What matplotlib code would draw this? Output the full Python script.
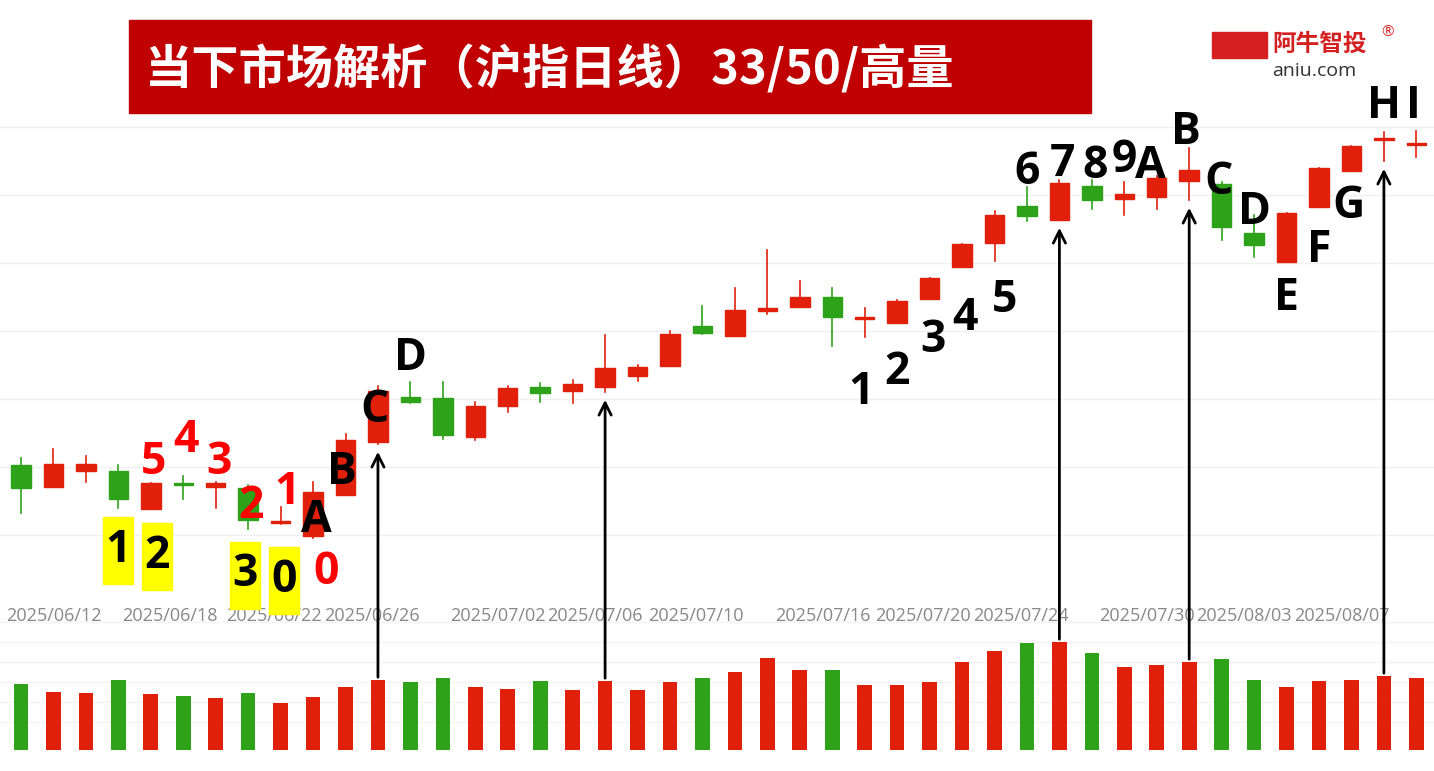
import matplotlib.pyplot as plt
from matplotlib.patches import Rectangle

plt.rcParams["font.family"] = ["Open Sans", "Noto Sans CJK SC"]

# price values (arbitrary index units)
opens  = [535, 513, 529, 529, 491, 516, 513, 512, 477, 464, 505, 558, 603, 602, 563, 594, 613, 609, 613, 624,
          634, 674, 664, 689, 693, 703, 681, 677, 701, 733, 757, 794, 780, 814, 801, 803, 819, 816, 767, 738,
          793, 829, 860, 855]
highs  = [542, 551, 544, 535, 517, 524, 518, 515, 493, 518, 566, 614, 618, 618, 598, 614, 617, 620, 665, 635,
          669, 694, 712, 750, 719, 712, 692, 700, 722, 756, 789, 813, 820, 820, 818, 824, 852, 818, 785, 787,
          832, 854, 868, 869]
lows   = [487, 513, 518, 492, 491, 501, 492, 471, 476, 462, 505, 556, 597, 561, 560, 588, 598, 597, 608, 619,
          634, 666, 664, 686, 693, 654, 663, 677, 701, 733, 739, 779, 780, 791, 785, 791, 800, 760, 743, 738,
          793, 829, 839, 843]
closes = [512, 536, 536, 501, 517, 515, 517, 480, 477, 508, 560, 609, 598, 565, 594, 612, 607, 616, 632, 633,
          666, 667, 690, 692, 703, 683, 681, 699, 722, 756, 785, 784, 817, 800, 806, 822, 830, 773, 755, 787,
          832, 854, 860, 855]
volumes = [66, 58, 57, 70, 56, 54, 52, 57, 47, 53, 63, 70, 68, 72, 63, 61, 69, 60, 69, 60,
           68, 72, 78, 92, 80, 80, 65, 65, 68, 88, 99, 107, 108, 97, 83, 85, 88, 91, 70, 63,
           69, 70, 74, 72]
tick_pos = [1.0, 4.6, 7.8, 10.8, 14.7, 17.7, 20.8, 24.7, 27.8, 30.8, 34.7, 37.7, 40.7]
tick_labels = ["2025/06/12", "2025/06/18", "2025/06/22", "2025/06/26", "2025/07/02", "2025/07/06",
               "2025/07/10", "2025/07/16", "2025/07/20", "2025/07/24", "2025/07/30", "2025/08/03",
               "2025/08/07"]
# wave labels: (candle index, price level, text, colour, yellow box)
marks = [
    (4.1, 538, "5", "red", False), (5.1, 560, "4", "red", False), (6.1, 538, "3", "red", False),
    (7.1, 493, "2", "red", False), (8.2, 508, "1", "red", False), (9.4, 427, "0", "red", False),
    (3.0, 450, "1", "black", True), (4.2, 444, "2", "black", True), (6.9, 425, "3", "black", True),
    (8.1, 420, "0", "black", True),
    (9.1, 480, "A", "black", False), (9.9, 528, "B", "black", False), (10.9, 590, "C", "black", False),
    (12.0, 642, "D", "black", False),
    (25.9, 608, "1", "black", False), (27.0, 628, "2", "black", False), (28.1, 660, "3", "black", False),
    (29.1, 682, "4", "black", False), (30.3, 700, "5", "black", False), (31.0, 827, "6", "black", False),
    (32.1, 835, "7", "black", False), (33.1, 834, "8", "black", False), (34.0, 840, "9", "black", False),
    (34.8, 833, "A", "black", False), (35.9, 868, "B", "black", False), (36.9, 818, "C", "black", False),
    (38.0, 787, "D", "black", False), (39.0, 702, "E", "black", False), (40.0, 750, "F", "black", False),
    (40.9, 793, "G", "black", False), (42.0, 893, "H", "black", False), (42.9, 893, "I", "black", False),
]
arrow_idx = [11, 18, 32, 36, 42]

RED = "#e0200a"
GREEN = "#2ea31a"
W, H = 1434, 771
SP = 32.45
X0 = -21 / SP
X1 = (W - 21) / SP

fig = plt.figure(figsize=(W / 100, H / 100), dpi=100)
ax = fig.add_axes([0, (H - 600) / H, 1, 500 / H])
axv = fig.add_axes([0, (H - 750) / H, 1, 130 / H])
ax.set_zorder(2)
ax.patch.set_alpha(0)
for a in (ax, axv):
    a.set_xlim(X0, X1)
    for s in a.spines.values():
        s.set_visible(False)
    a.tick_params(length=0)
    a.set_yticks([])
ax.set_ylim(400, 900)
axv.set_ylim(0, 130)
axv.set_xticks([])

for gy in [873, 805, 737, 669, 601, 533, 465, 397]:
    ax.axhline(gy, color="#f0f0f0", lw=1, zorder=0)
for gy in [128, 108, 88, 68, 48, 28]:
    axv.axhline(gy, color="#f3f3f3", lw=1, zorder=0)

for i, (o, h, l, c) in enumerate(zip(opens, highs, lows, closes)):
    col = RED if c >= o else GREEN
    ax.plot([i, i], [l, h], color=col, lw=1.2, zorder=2)
    bot, top = min(o, c), max(o, c)
    ax.add_patch(Rectangle((i - 0.3, bot), 0.6, max(top - bot, 2), color=col, zorder=3))
    axv.bar(i, volumes[i], width=0.45, color=col)

ax.set_xticks(tick_pos)
ax.set_xticklabels(tick_labels, color="#888888", fontsize=13)
ax.tick_params(axis="x", pad=5)

for x, y, t, col, box in marks:
    if box:
        ax.add_patch(Rectangle((x - 0.46, y - 34), 0.92, 67, color="#ffff00", zorder=5, clip_on=False))
    ax.text(x, y, t, color=col, fontsize=32, fontweight="bold", ha="center", va="center",
            zorder=6, clip_on=False)

for i in arrow_idx:
    vy = 1000 - (750 - volumes[i] * 1.0)
    ax.annotate("", xy=(i, lows[i] - 5), xytext=(i, vy), annotation_clip=False,
                arrowprops=dict(arrowstyle="->", color="black", lw=2, mutation_scale=22), zorder=7)

# title banner
fig.patches.append(Rectangle((129 / W, 1 - 113 / H), 962 / W, 93 / H, transform=fig.transFigure,
                             color="#c00000", zorder=0))
fig.text(145 / W, 1 - 70 / H, "当下市场解析（沪指日线）33/50/高量", color="white", fontsize=34,
         fontweight="bold", va="center", family="Noto Sans CJK SC")
fig.text(1272 / W, 1 - 44 / H, "阿牛智投", color="#d42020", fontsize=17, fontweight="bold",
         va="center", family="Noto Sans CJK SC")
fig.text(1381 / W, 1 - 32 / H, "®", color="#d42020", fontsize=11, va="center")
fig.text(1272 / W, 1 - 71 / H, "aniu.com", color="#333333", fontsize=14, va="center")
fig.patches.append(Rectangle((1212 / W, 1 - 58 / H), 55 / W, 26 / H, transform=fig.transFigure,
                             color="#d42020", zorder=1))

fig.savefig("out.png", dpi=100)
